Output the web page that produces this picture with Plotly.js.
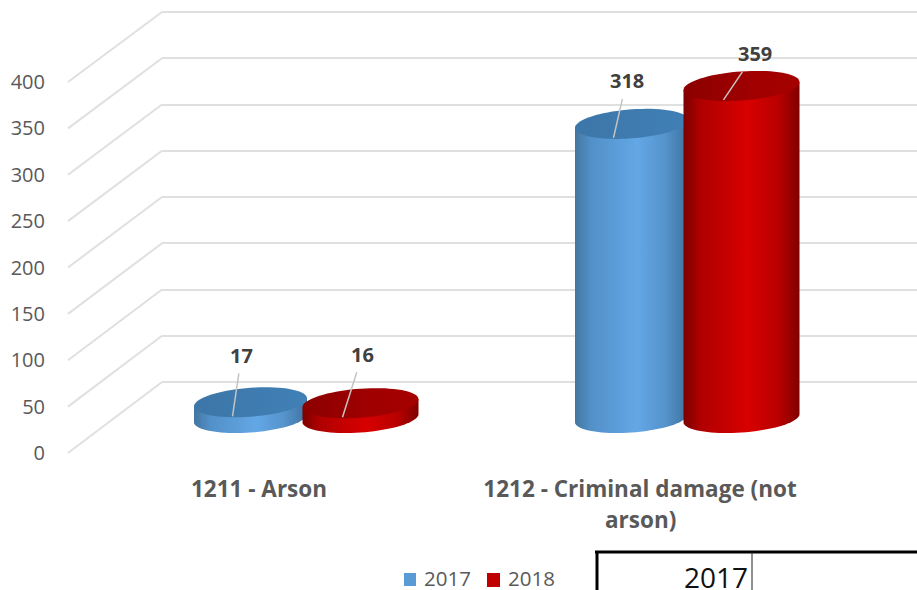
<!DOCTYPE html>
<html>
<head>
<meta charset="utf-8">
<script src="https://cdn.plot.ly/plotly-3.0.1.min.js"></script>
<style>html,body{margin:0;padding:0;background:#fff;overflow:hidden}</style>
</head>
<body>
<div id="chart" style="width:917px;height:590px"></div>
<script>
// ---- data ----
const categories = ["1211 - Arson", "1212 - Criminal damage (not arson)"];
const catIndex = [0, 1];
const tickLine1 = ["1211 - Arson", "1212 - Criminal damage (not"];
const tickLine2 = "arson)";
const values2017 = [17, 318];
const values2018 = [16, 359];
const seriesNames = ["2017", "2018"];
const axisTicks = [0, 50, 100, 150, 200, 250, 300, 350, 400];
const labelDx = { "2017": [9, 13], "2018": [20, 31] };
const labelDy = { "2017": [-61, -57], "2018": [-63, -46] };

// ---- geometry of the faked 3D view (page pixels) ----
const W = 917, H = 590;
const frontY0 = 453, frontY400 = 82, frontX = 68;
const backY0 = 382, backY400 = 12, backX = 162;
const cylBase = 418, cylScale = 0.925;
const cylRangeLo = -60, cylRangeHi = 440;
const unitPx = 381, cx0 = 115;
const rxPx = { "2017": 56.5, "2018": 58 };
const offsetPx = { "2017": -55, "2018": 55 };
const ryPx = 14.5, tiltPx = 4;
const grey = "#595959", gridCol = "#e0e0e0";
const colors = { "2017": "#5b9bd5", "2018": "#c00000" };
const fontFam = '"Open Sans", "Noto Sans", sans-serif';

const px = v => v / W, py = v => 1 - v / H;
const frontPx = v => frontY0 + (frontY400 - frontY0) * v / 400;
const backPx = v => backY0 + (backY400 - backY0) * v / 400;

function ellipsePts(cx, v, rx, from, to, n) {
  const pts = [];
  for (let i = 0; i <= n; i++) {
    const t = from + (to - from) * i / n;
    const dx = rx * Math.cos(t);
    const dy = ryPx * Math.sin(t) + tiltPx * Math.cos(t);
    pts.push((cx + dx / unitPx).toFixed(5) + " " + (v + dy / cylScale).toFixed(3));
  }
  return pts;
}

const shapes = [];
// perspective floor/wall diagonals
axisTicks.forEach(v => shapes.push({
  type: "line", xref: "paper", yref: "paper", layer: "below",
  x0: px(frontX), y0: py(frontPx(v)), x1: px(backX), y1: py(backPx(v)),
  line: { color: gridCol, width: 2 }
}));

const gradientTargets = [];
function addCylinder(series, i, val) {
  const cx = catIndex[i] + offsetPx[series] / unitPx;
  const rx = rxPx[series];
  // body: lower half of the base ellipse, closed up to the top ellipse
  const lower = ellipsePts(cx, 0, rx, Math.PI, 2 * Math.PI, 40);
  const topBack = ellipsePts(cx, val, rx, 0, Math.PI, 2);
  const body = "M " + lower.join(" L ") + " L " + topBack[0] + " L " + topBack[2] + " Z";
  gradientTargets.push([shapes.length, "body" + series]);
  shapes.push({ type: "path", xref: "x3", yref: "y2", layer: "above", path: body,
    fillcolor: colors[series], line: { width: 0 } });
  const top = ellipsePts(cx, val, rx, 0, 2 * Math.PI, 72);
  gradientTargets.push([shapes.length, "top" + series]);
  shapes.push({ type: "path", xref: "x3", yref: "y2", layer: "above",
    path: "M " + top.join(" L ") + " Z",
    fillcolor: colors[series], line: { width: 0 } });
}
catIndex.forEach(i => {
  addCylinder("2017", i, values2017[i]);
  addCylinder("2018", i, values2018[i]);
});

// legend squares and the cropped table at the bottom
shapes.push({ type: "rect", xref: "paper", yref: "paper", x0: px(404), x1: px(416), y0: py(586), y1: py(573),
  fillcolor: colors["2017"], line: { width: 0 } });
shapes.push({ type: "rect", xref: "paper", yref: "paper", x0: px(487), x1: px(500), y0: py(587), y1: py(573),
  fillcolor: colors["2018"], line: { width: 0 } });
shapes.push({ type: "line", xref: "paper", yref: "paper", x0: px(595), x1: 1, y0: py(552), y1: py(552), line: { color: "#000", width: 3 } });
shapes.push({ type: "line", xref: "paper", yref: "paper", x0: px(597), x1: px(597), y0: py(551), y1: 0, line: { color: "#000", width: 3 } });
shapes.push({ type: "line", xref: "paper", yref: "paper", x0: px(752), x1: px(752), y0: py(552), y1: 0, line: { color: "#222", width: 1 } });

const annotations = [];
function addLabel(series, i, val) {
  annotations.push({
    xref: "x3", yref: "y2", x: catIndex[i] + offsetPx[series] / unitPx, y: val,
    xshift: -18, yshift: -14,
    text: "<b>" + val + "</b>", showarrow: true, arrowhead: 0, arrowwidth: 1.5, arrowcolor: "#c4c4c4",
    ax: labelDx[series][i], ay: labelDy[series][i], borderpad: 4,
    font: { family: fontFam, size: 20, color: "#404040" }
  });
}
catIndex.forEach(i => {
  addLabel("2017", i, values2017[i]);
  addLabel("2018", i, values2018[i]);
});
annotations.push({ xref: "x", yref: "paper", x: 1, y: py(519), yanchor: "middle", text: "<b>" + tickLine2 + "</b>", showarrow: false,
  font: { family: fontFam, size: 22.5, color: grey } });
annotations.push({ xref: "paper", yref: "paper", x: px(422), y: py(577.5), xanchor: "left", yanchor: "middle", text: seriesNames[0], showarrow: false,
  font: { family: fontFam, size: 20.5, color: grey } });
annotations.push({ xref: "paper", yref: "paper", x: px(506), y: py(577.5), xanchor: "left", yanchor: "middle", text: seriesNames[1], showarrow: false,
  font: { family: fontFam, size: 20.5, color: grey } });
annotations.push({ xref: "paper", yref: "paper", x: px(750), y: py(577), xanchor: "right", yanchor: "middle", text: seriesNames[0], showarrow: false,
  font: { family: fontFam, size: 28, color: "#111" } });

function barTrace(series, vals) {
  const inset = 3 / unitPx;
  const rx = rxPx[series] / unitPx, off = offsetPx[series] / unitPx;
  return {
    type: "bar", name: series, x: catIndex, y: vals, xaxis: "x3", yaxis: "y2",
    customdata: categories,
    width: 2 * rx - 2 * inset, offset: off - rx + inset,
    marker: { color: colors[series], line: { width: 0 } }, showlegend: false, hoverinfo: "skip"
  };
}

// empty traces that make the back-wall and front subplots exist
const wallTrace = { type: "scatter", mode: "lines", x: [], y: [], xaxis: "x2", yaxis: "y3", showlegend: false, hoverinfo: "skip" };
const frontTrace = { type: "scatter", mode: "lines", x: [], y: [], xaxis: "x", yaxis: "y", showlegend: false, hoverinfo: "skip" };
const traces = [wallTrace, frontTrace, barTrace("2017", values2017), barTrace("2018", values2018)];

const wallLo = -10, wallHi = 410;
const layout = {
  width: W, height: H, margin: { l: 0, r: 0, t: 0, b: 0 },
  paper_bgcolor: "#fff", plot_bgcolor: "rgba(0,0,0,0)", showlegend: false, barmode: "overlay",
  font: { family: fontFam, color: grey },
  // front plane: value tick labels and category labels
  xaxis: { domain: [px(68.5), px(830.5)], range: [-0.5, 1.5], anchor: "y", tickmode: "array", tickvals: catIndex,
    ticktext: tickLine1.map(s => "<b>" + s + "</b>"), showgrid: false, zeroline: false, showline: false, ticks: "",
    ticklabelstandoff: 20, tickangle: 0, tickfont: { family: fontFam, size: 22.5, color: grey } },
  yaxis: { domain: [py(frontY0), py(frontY400)], range: [0, 400], anchor: "free", position: px(45), tickmode: "array",
    tickvals: axisTicks, showgrid: false, zeroline: false, showline: false, ticks: "",
    tickfont: { family: fontFam, size: 20, color: grey } },
  // cylinders
  xaxis3: { domain: [px(cx0), px(cx0 + 2 * unitPx)], range: [-0.5, 1.5], anchor: "y2", visible: false },
  yaxis2: { domain: [py(cylBase - cylScale * cylRangeLo), py(cylBase - cylScale * cylRangeHi)],
    range: [cylRangeLo, cylRangeHi], anchor: "x3", visible: false },
  // back wall gridlines
  xaxis2: { domain: [px(backX), 1], range: [0, 1], anchor: "y3", showticklabels: false, ticks: "", showgrid: false, zeroline: false, showline: false },
  yaxis3: { domain: [py(backPx(wallLo)), py(backPx(wallHi))], range: [wallLo, wallHi], anchor: "x2", tickmode: "array", tickvals: axisTicks,
    showticklabels: false, ticks: "", showgrid: true, gridcolor: gridCol, gridwidth: 2, zeroline: false, showline: false },
  shapes: shapes, annotations: annotations
};

const gradients = {
  body2017: [[0, "#44769f"], [0.14, "#5290c8"], [0.55, "#63a7e6"], [0.8, "#5593cb"], [1, "#3f729f"]],
  body2018: [[0, "#7c0000"], [0.15, "#b00000"], [0.55, "#d80000"], [0.82, "#b80000"], [1, "#800000"]],
  top2017: [[0, "#3d76a8"], [1, "#4080b6"]],
  top2018: [[0, "#8c0000"], [0.6, "#a00000"], [1, "#a60000"]]
};

const gd = document.getElementById("chart");
Plotly.newPlot(gd, traces, layout, { displayModeBar: false, staticPlot: true }).then(() => {
  const svg = gd.querySelector(".main-svg");
  const NS = "http://www.w3.org/2000/svg";
  let defs = svg.querySelector("defs");
  Object.keys(gradients).forEach(id => {
    const g = document.createElementNS(NS, "linearGradient");
    g.setAttribute("id", "grad" + id);
    g.setAttribute("x1", "0"); g.setAttribute("x2", "1"); g.setAttribute("y1", "0"); g.setAttribute("y2", "0");
    gradients[id].forEach(s => {
      const st = document.createElementNS(NS, "stop");
      st.setAttribute("offset", s[0]); st.setAttribute("stop-color", s[1]);
      g.appendChild(st);
    });
    defs.appendChild(g);
  });
  gradientTargets.forEach(([idx, id]) => {
    const p = gd.querySelector('.shapelayer path[data-index="' + idx + '"]');
    if (p) p.style.fill = "url(#grad" + id + ")";
  });
});
</script>
</body>
</html>
